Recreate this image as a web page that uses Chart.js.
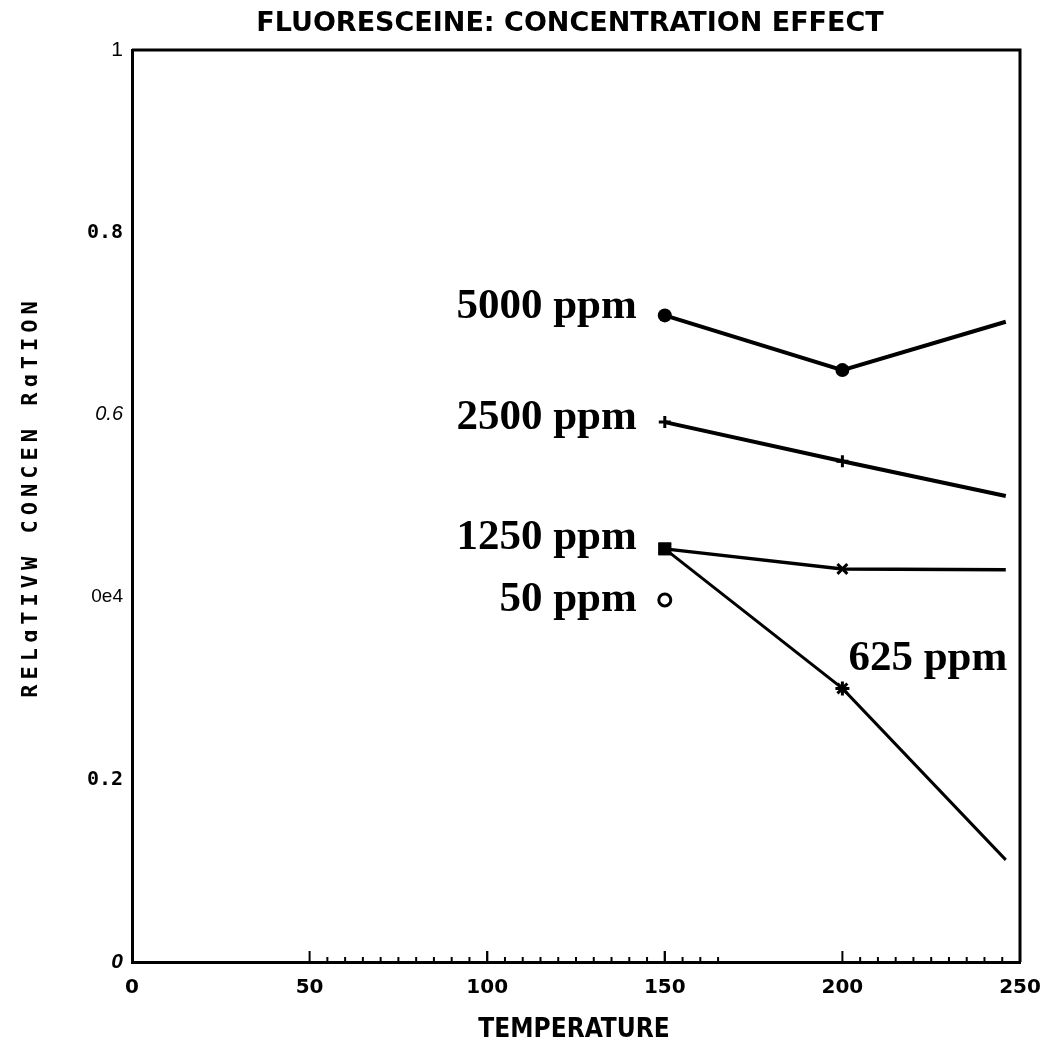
<!DOCTYPE html>
<html>
<head>
<meta charset="utf-8">
<script src="https://cdn.jsdelivr.net/npm/chart.js@4.4.1/dist/chart.umd.min.js"></script>
<style>
html,body{margin:0;padding:0;background:#fff;}
#wrap{width:1046px;height:1046px;position:relative;}
</style>
</head>
<body>
<div id="wrap"><canvas id="c" width="1046" height="1046"></canvas></div>
<script>
// ---- data ----
const titleText = 'FLUORESCEINE: CONCENTRATION EFFECT';
const xTitle = 'TEMPERATURE';
const yTitle = 'RELɑTIVW CONCEN RɑTION';
const temps = [150, 200, 246];
const ppm5000 = [0.709, 0.649, 0.702];
const ppm2500 = [0.592, 0.549, 0.511];
const ppm1250 = [0.453, 0.431, 0.430];
const ppm625  = [0.453, 0.300, 0.112];
const ppm50Temp = [150];
const ppm50 = [0.397];
const seriesNames = ['5000 ppm', '2500 ppm', '1250 ppm', '625 ppm', '50 ppm'];
const xTickValues = [0, 50, 100, 150, 200, 250];
const yTickValues = [0, 0.2, 0.4, 0.6, 0.8, 1];
const yTickLabels = ['0', '0.2', '0e4', '0.6', '0.8', '1'];
const minorTickRanges = [[50, 165], [200, 245]];

function pts(xs, ys){ return ys.map((y,i)=>({x:xs[i], y:y})); }

const yFonts = {
  '0':   {family:'Liberation Sans', size:21, style:'italic', weight:'bold'},
  '0.2': {family:'DejaVu Sans Mono', size:20, weight:'bold'},
  '0e4': {family:'Liberation Sans', size:19, weight:'normal'},
  '0.6': {family:'Liberation Sans', size:20, style:'italic', weight:'normal'},
  '0.8': {family:'DejaVu Sans Mono', size:20, weight:'bold'},
  '1':   {family:'Liberation Sans', size:21, weight:'normal'}
};

const labelPlacements = [
  {ds:0, pt:0, dx:-28, dy:-9, align:'right'},
  {ds:1, pt:0, dx:-28, dy:-4, align:'right'},
  {ds:2, pt:0, dx:-28, dy:-11, align:'right'},
  {ds:3, pt:1, dx:6, dy:-30, align:'left'},
  {ds:4, pt:0, dx:-28, dy:0, align:'right'}
];

const decor = {
  id:'decor',
  afterDraw(chart){
    const ctx = chart.ctx, a = chart.chartArea;
    const xs = chart.scales.x;
    ctx.save();
    ctx.strokeStyle = '#000';
    ctx.lineWidth = 3;
    ctx.beginPath();
    ctx.moveTo(a.left, a.top); ctx.lineTo(a.right, a.top); ctx.lineTo(a.right, a.bottom);
    ctx.stroke();
    ctx.lineWidth = 2;
    minorTickRanges.forEach(r=>{
      for(let v=r[0]; v<=r[1]; v+=5){
        const px = xs.getPixelForValue(v);
        const len = (v % 50 === 0) ? 11 : 5;
        ctx.beginPath(); ctx.moveTo(px, a.bottom); ctx.lineTo(px, a.bottom - len); ctx.stroke();
      }
    });
    [100,150].forEach(v=>{
      const px = xs.getPixelForValue(v);
      ctx.beginPath(); ctx.moveTo(px, a.bottom); ctx.lineTo(px, a.bottom - 11); ctx.stroke();
    });
    ctx.fillStyle = '#000';
    ctx.font = 'bold 27px "DejaVu Sans"';
    ctx.textAlign = 'center'; ctx.textBaseline = 'middle';
    ctx.fillText(titleText, 570, 24);
    ctx.font = 'bold 26px "DejaVu Sans Condensed", "DejaVu Sans"';
    ctx.fillText(xTitle, 574, 1030);
    ctx.translate(31, 497);
    ctx.rotate(-Math.PI/2);
    ctx.font = 'bold 22px "DejaVu Sans Mono"';
    try { ctx.letterSpacing = '5px'; } catch(e){}
    ctx.fillText(yTitle, 0, 0);
    ctx.restore();
    ctx.save();
    ctx.fillStyle = '#000';
    ctx.font = 'bold 43px "Liberation Serif", "Times New Roman", serif';
    ctx.textBaseline = 'middle';
    labelPlacements.forEach((p)=>{
      const el = chart.getDatasetMeta(p.ds).data[p.pt];
      ctx.textAlign = p.align;
      ctx.fillText(seriesNames[p.ds], el.x + p.dx, el.y + p.dy);
    });
    ctx.restore();
  }
};

const black = '#000';
new Chart(document.getElementById('c'), {
  type:'line',
  data:{
    datasets:[
      {label:seriesNames[0], data:pts(temps, ppm5000), borderColor:black, backgroundColor:black, borderWidth:4,
       pointStyle:'circle', pointRadius:[7,7,0], pointBorderWidth:0},
      {label:seriesNames[1], data:pts(temps, ppm2500), borderColor:black, backgroundColor:black, borderWidth:4,
       pointStyle:'cross', pointRadius:[6,6,0], pointBorderWidth:3},
      {label:seriesNames[2], data:pts(temps, ppm1250), borderColor:black, backgroundColor:black, borderWidth:3.5,
       pointStyle:['rect','crossRot','rect'], pointRadius:[7,7,0], pointBorderWidth:3},
      {label:seriesNames[3], data:pts(temps, ppm625), borderColor:black, backgroundColor:black, borderWidth:3,
       pointStyle:['rect','star','rect'], pointRadius:[7,7,0], pointBorderWidth:3},
      {label:seriesNames[4], data:pts(ppm50Temp, ppm50), showLine:false, borderColor:black, backgroundColor:'#fff',
       pointStyle:'circle', pointRadius:6, pointBorderWidth:3},
      {label:seriesNames[4]+' x', data:pts(ppm50Temp, ppm50), showLine:false, borderColor:black, backgroundColor:black,
       pointStyle:'crossRot', pointRadius:4, pointBorderWidth:2.5}
    ]
  },
  options:{
    responsive:false,
    animation:false,
    devicePixelRatio:1,
    layout:{padding:{top:50, right:26, left:0, bottom:0}},
    plugins:{legend:{display:false}, title:{display:false}, tooltip:{enabled:false}},
    scales:{
      x:{
        type:'linear', min:0, max:250,
        afterBuildTicks(s){ s.ticks = xTickValues.map(v=>({value:v})); },
        afterFit(s){ s.height = 84; s.paddingLeft = 0; s.paddingRight = 0; },
        grid:{display:false, drawTicks:false},
        border:{display:true, color:black, width:3},
        ticks:{color:black, padding:14, maxRotation:0, font:{family:'"DejaVu Sans"', size:20, weight:'bold'}}
      },
      y:{
        type:'linear', min:0, max:1,
        afterBuildTicks(s){ s.ticks = yTickValues.map(v=>({value:v})); },
        afterFit(s){ s.width = 132; s.paddingTop = 0; s.paddingBottom = 0; },
        grid:{display:false, drawTicks:false},
        border:{display:true, color:black, width:3},
        ticks:{
          color:black, padding:9,
          callback:(v)=>{ const i = yTickValues.indexOf(v); return i>=0 ? yTickLabels[i] : ''; },
          font:(ctx)=>{ const i = yTickValues.indexOf(ctx.tick ? ctx.tick.value : -1); return i>=0 ? yFonts[yTickLabels[i]] : {size:19}; }
        }
      }
    }
  },
  plugins:[decor]
});
</script>
</body>
</html>
